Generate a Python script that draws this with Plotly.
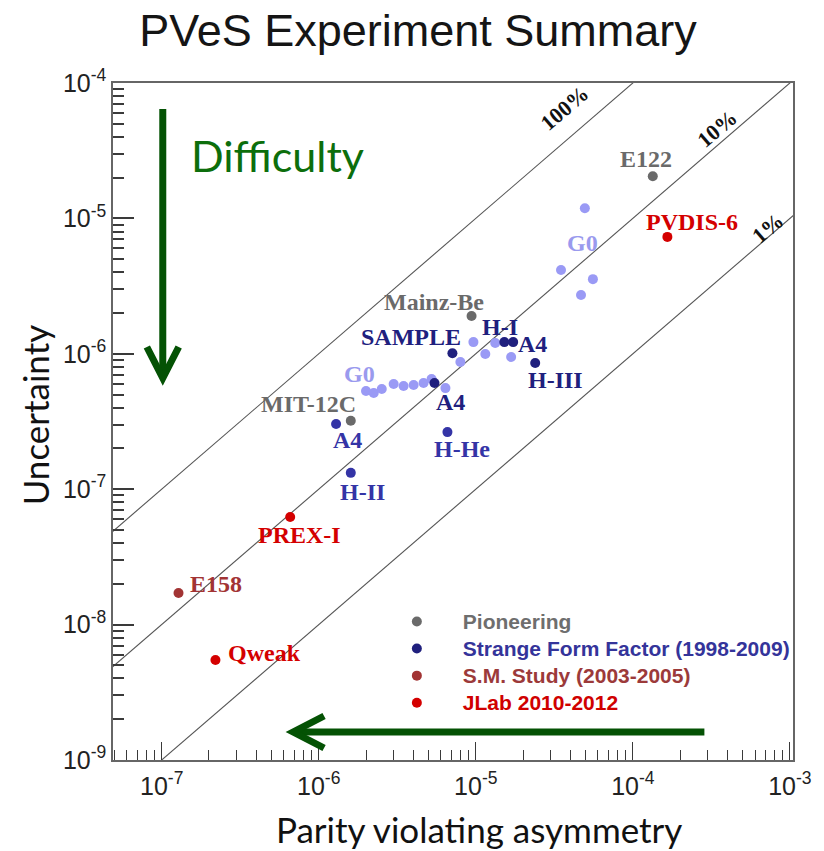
import math
import plotly.graph_objects as go

# ---------------- data ----------------
# Pioneering experiments
pio_names = ["E122", "Mainz-Be", "MIT-12C"]
pio_A = [1.34e-4, 9.4e-6, 1.6e-6]
pio_dA = [2.05e-5, 1.9e-6, 3.2e-7]

# Strange form factor (1998-2009), labelled points
sff_names = ["SAMPLE", "H-I", "A4", "H-III", "A4 ", "A4  ", "H-II", "H-He"]
sff_A = [7.1e-6, 1.52e-5, 1.73e-5, 2.39e-5, 5.46e-6, 1.29e-6, 1.6e-6, 6.6e-6]
sff_dA = [1.01e-6, 1.22e-6, 1.22e-6, 8.55e-7, 6.08e-7, 3.03e-7, 1.32e-7, 2.64e-7]
sff_shade = ["dark", "dark", "dark", "dark", "dark", "mid", "mid", "mid"]

# G0 measurements (part of strange form factor programme)
g0_A = [2.0e-6, 2.24e-6, 2.52e-6, 3.0e-6, 3.47e-6, 4.02e-6, 4.65e-6, 5.23e-6, 6.41e-6,
        7.98e-6, 9.66e-6, 1.15e-5, 1.33e-5, 1.68e-5,
        4.95e-5, 3.49e-5, 5.57e-5, 4.68e-5]
g0_dA = [5.31e-7, 5.13e-7, 5.49e-7, 5.98e-7, 5.78e-7, 5.89e-7, 6.08e-7, 6.51e-7, 5.58e-7,
         8.69e-7, 1.22e-6, 9.97e-7, 1.20e-6, 9.46e-7,
         1.19e-5, 4.16e-6, 3.56e-6, 2.72e-6]

# S.M. study (2003-2005)
sm_names = ["E158"]
sm_A = [1.28e-7]
sm_dA = [1.71e-8]

# JLab 2010-2012
jl_names = ["PREX-I", "Qweak", "PVDIS-6"]
jl_A = [6.58e-7, 2.2e-7, 1.66e-4]
jl_dA = [6.24e-8, 5.48e-9, 7.3e-6]

# relative precision reference lines
pct_levels = [1.0, 0.1, 0.01]
pct_labels = ["100%", "10%", "1%"]

x_tick_vals = [1e-7, 1e-6, 1e-5, 1e-4, 1e-3]
x_tick_text = ["10<sup>-7</sup>", "10<sup>-6</sup>", "10<sup>-5</sup>", "10<sup>-4</sup>", "10<sup>-3</sup>"]
y_tick_vals = [1e-9, 1e-8, 1e-7, 1e-6, 1e-5, 1e-4]
y_tick_text = ["10<sup>-9</sup>", "10<sup>-8</sup>", "10<sup>-7</sup>", "10<sup>-6</sup>", "10<sup>-5</sup>", "10<sup>-4</sup>"]

# ---------------- layout geometry ----------------
W, H = 824, 851
L, R, T, B = 113, 796, 83, 760
XR = [-7.31, -2.98]
YR = [-9.0, -4.0]


def pxp(x):
    return (x - L) / (R - L)


def pyp(y):
    return (B - y) / (B - T)


C_GRAY = "#6a6a6a"
C_NAVY = "#20207e"
C_BLUE = "#3434a6"
C_LIGHT = "#9a9af5"
C_BROWN = "#a23434"
C_RED = "#d40000"
C_GREEN = "#0c6e0c"
C_ARROW = "#045204"
C_TICK = "#3a3a3a"

fig = go.Figure()

# reference lines
xline = [10 ** (XR[0] - 0.2), 10 ** (XR[1] + 0.2)]
for lev in pct_levels:
    fig.add_trace(go.Scatter(x=xline, y=[lev * v for v in xline], mode="lines",
                             line=dict(color="#555555", width=1.1),
                             showlegend=False, hoverinfo="skip"))

MS = 10
LEG = "<span style='color:%s;font-size:21px'>%s</span>"
fig.add_trace(go.Scatter(x=g0_A, y=g0_dA, mode="markers", name="G0",
                         marker=dict(color=C_LIGHT, size=MS), showlegend=False))
fig.add_trace(go.Scatter(x=pio_A, y=pio_dA, mode="markers",
                         name=LEG % ("#6e6e6e", "Pioneering"),
                         marker=dict(color=C_GRAY, size=MS)))
fig.add_trace(go.Scatter(x=sff_A, y=sff_dA, mode="markers",
                         name=LEG % ("#34349a", "Strange Form Factor (1998-2009)"),
                         marker=dict(color=[C_NAVY if s == "dark" else C_BLUE for s in sff_shade], size=MS)))
fig.add_trace(go.Scatter(x=sm_A, y=sm_dA, mode="markers",
                         name=LEG % ("#9c3a3a", "S.M. Study (2003-2005)"),
                         marker=dict(color=C_BROWN, size=MS)))
fig.add_trace(go.Scatter(x=jl_A, y=jl_dA, mode="markers",
                         name=LEG % ("#d00000", "JLab 2010-2012"),
                         marker=dict(color=C_RED, size=MS)))

# ---------------- point labels ----------------
SERIF = "Liberation Serif"
LFS = 24
label_style = {  # name: (dx, dy up, color)
    "E122": (-7, 17, C_GRAY), "Mainz-Be": (-38, 14, C_GRAY), "MIT-12C": (-42, 17, C_GRAY),
    "SAMPLE": (-41, 16, C_NAVY), "H-I": (-4, 15, C_NAVY), "A4": (19, -2, C_NAVY),
    "H-III": (20, -17, C_NAVY), "A4 ": (16, -19, C_NAVY), "A4  ": (11, -16, C_BLUE),
    "H-II": (12, -19, C_BLUE), "H-He": (15, -17, C_BLUE),
    "E158": (37, 9, C_BROWN), "PREX-I": (9, -18, C_RED), "Qweak": (49, 7, C_RED),
    "PVDIS-6": (25, 15, C_RED),
}
annotations = []
for names, xs, ys in [(pio_names, pio_A, pio_dA), (sff_names, sff_A, sff_dA),
                      (sm_names, sm_A, sm_dA), (jl_names, jl_A, jl_dA)]:
    for n, xv, yv in zip(names, xs, ys):
        dx, dy, col = label_style[n]
        annotations.append(dict(x=math.log10(xv), y=math.log10(yv), xref="x", yref="y",
                                text="<b>%s</b>" % n.strip(), showarrow=False,
                                xanchor="center", yanchor="middle",
                                xshift=dx, yshift=dy,
                                font=dict(family=SERIF, size=LFS, color=col)))
# G0 labels (upper and lower groups)
for idx, dx, dy in [(14, -2, -35), (0, -7, 17)]:
    annotations.append(dict(x=math.log10(g0_A[idx]), y=math.log10(g0_dA[idx]), xref="x", yref="y",
                            text="<b>G0</b>", showarrow=False, xshift=dx, yshift=dy,
                            xanchor="center", yanchor="middle",
                            font=dict(family=SERIF, size=LFS, color="#9a9aee")))

# percent labels placed along their lines
for lev, lab, lx, dy in zip(pct_levels, pct_labels, [-4.438, -3.462, -3.145], [34, 17, 10]):
    annotations.append(dict(x=lx, y=lx + math.log10(lev), xref="x", yref="y",
                            text="<b>%s</b>" % lab, showarrow=False, yshift=dy,
                            xanchor="center", yanchor="middle",
                            textangle=-40.6,
                            font=dict(family=SERIF, size=22, color="#111111")))

# axis titles and decorative text
annotations.append(dict(x=pxp(35), y=pyp(415), xref="paper", yref="paper", text="Uncertainty",
                        showarrow=False, textangle=-90, xanchor="center", yanchor="middle",
                        font=dict(family="Lato", size=35, color="#111111")))
annotations.append(dict(x=pxp(481), y=pyp(829), xref="paper", yref="paper",
                        text="Parity violating asymmetry", showarrow=False,
                        xanchor="center", yanchor="middle",
                        font=dict(family="Lato", size=35, color="#111111")))
annotations.append(dict(x=pxp(278), y=pyp(155), xref="paper", yref="paper", text="Difficulty",
                        showarrow=False, xanchor="center", yanchor="middle",
                        font=dict(family="Lato", size=43, color=C_GREEN)))

# arrows
shapes = []
aw = 7
shapes.append(dict(type="line", xref="paper", yref="paper", x0=pxp(163), x1=pxp(163),
                   y0=pyp(109), y1=pyp(374), line=dict(color=C_ARROW, width=aw)))
shapes.append(dict(type="path", xref="paper", yref="paper",
                   path="M %f %f L %f %f L %f %f" % (pxp(147), pyp(347), pxp(163), pyp(378), pxp(179), pyp(347)),
                   line=dict(color=C_ARROW, width=aw)))
shapes.append(dict(type="line", xref="paper", yref="paper", x0=pxp(707), x1=pxp(298),
                   y0=pyp(732), y1=pyp(732), line=dict(color=C_ARROW, width=aw)))
shapes.append(dict(type="path", xref="paper", yref="paper",
                   path="M %f %f L %f %f L %f %f" % (pxp(325), pyp(716), pxp(294), pyp(732), pxp(325), pyp(748)),
                   line=dict(color=C_ARROW, width=aw)))

minor_x = [k * 10 ** e for e in range(-8, -2) for k in range(2, 10)]
minor_y = [k * 10 ** e for e in range(-9, -4) for k in range(2, 10)]

axis_common = dict(type="log", showgrid=False, zeroline=False, showline=True,
                   linecolor="#666666", linewidth=1.5, mirror=True,
                   tickfont=dict(family="Liberation Sans", size=25, color="#222222"))

fig.update_layout(
    width=W, height=H,
    margin=dict(l=L, r=W - R, t=T, b=H - B),
    paper_bgcolor="white", plot_bgcolor="white",
    title=dict(text="PVeS Experiment Summary", x=418 / W, xanchor="center",
               y=1 - 30 / H, yanchor="middle", yref="container",
               font=dict(family="Liberation Sans", size=45, color="#151515")),
    xaxis=dict(range=XR, tickvals=x_tick_vals, ticktext=x_tick_text,
               ticks="inside", ticklen=18, tickcolor=C_TICK, tickwidth=1.3,
               ticklabelstandoff=3,
               minor=dict(tickvals=minor_x, ticks="inside", ticklen=10, tickcolor=C_TICK, tickwidth=1.3),
               **axis_common),
    yaxis=dict(range=YR, tickvals=y_tick_vals, ticktext=y_tick_text,
               ticks="inside", ticklen=21, tickcolor=C_TICK, tickwidth=2,
               ticksuffix="\u2002",
               minor=dict(tickvals=minor_y, ticks="inside", ticklen=11, tickcolor=C_TICK, tickwidth=2),
               **axis_common),
    legend=dict(x=pxp(372), y=pyp(603), xanchor="left", yanchor="top",
                bgcolor="rgba(0,0,0,0)", itemwidth=82,
                font=dict(family="Liberation Sans", size=18.5, color="#333333", weight="bold")),
    annotations=annotations,
    shapes=shapes,
)

fig.write_html("out.html")
